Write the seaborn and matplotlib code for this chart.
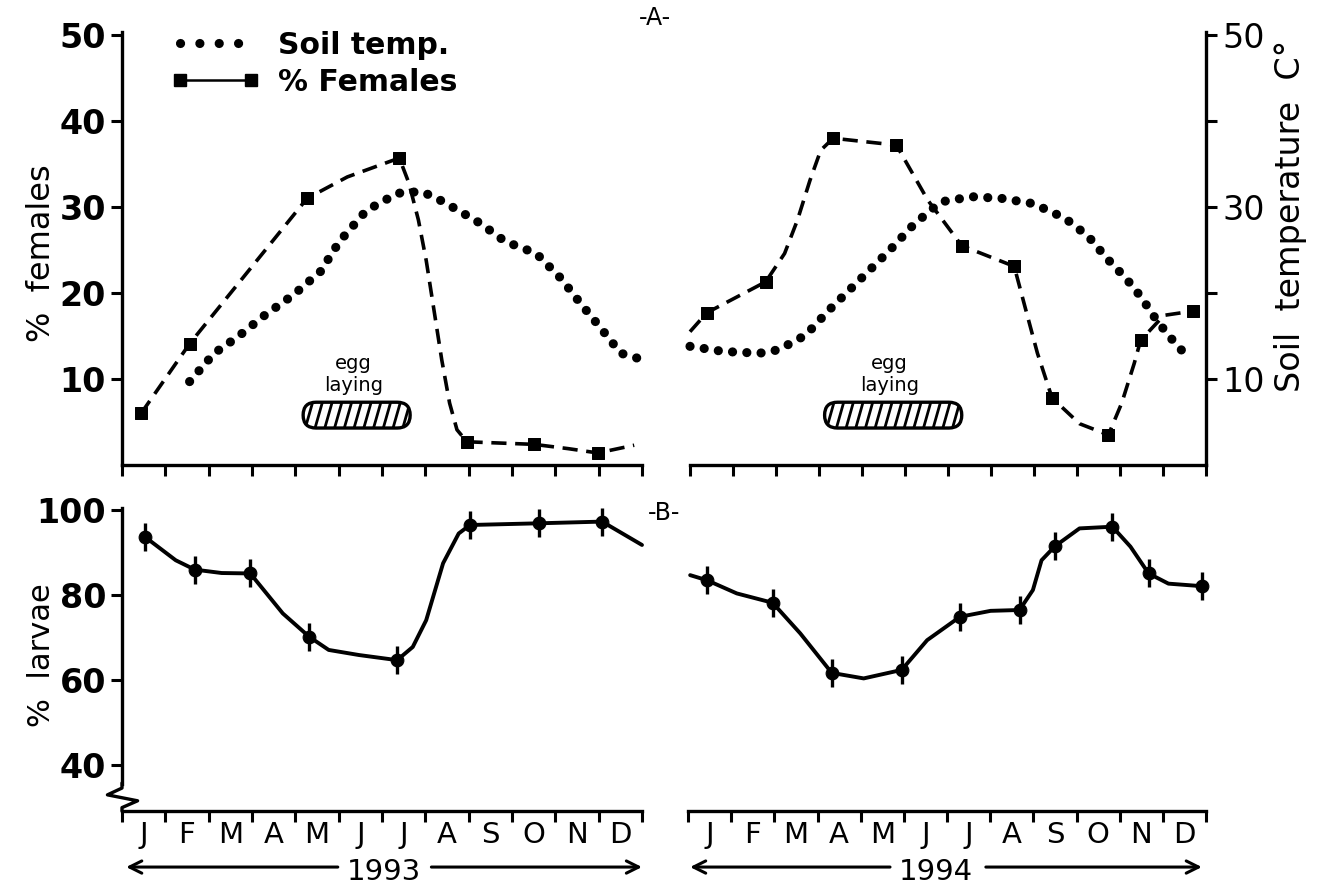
import numpy as np
import pandas as pd
import matplotlib
matplotlib.use("Agg")
import matplotlib.pyplot as plt
import seaborn as sns
from matplotlib.patches import FancyBboxPatch
from matplotlib.lines import Line2D

# ---------------- data (month index: 0 = 1 Jan, 12 = 31 Dec) ----------------
months = ["J", "F", "M", "A", "M", "J", "J", "A", "S", "O", "N", "D"]

# Panel A, 1993 : % females (markers) and the drawn dashed path
fem93_month = [0.44, 1.56, 4.27, 6.40, 7.96, 9.51, 10.98]
fem93_value = [6.0, 14.1, 31.0, 35.7, 2.7, 2.4, 1.4]
fem93_path_month = [0.44, 1.56, 4.27, 5.2, 6.40, 6.62, 6.84, 7.02, 7.2, 7.38,
                    7.56, 7.73, 7.96, 9.51, 10.3, 10.98, 11.82]
fem93_path_value = [6.0, 14.1, 31.0, 33.5, 35.7, 32.8, 28.5, 23.8, 18.0, 12.2,
                    7.2, 4.1, 2.7, 2.4, 1.9, 1.4, 2.3]

# Panel A, 1993 : soil temperature (dotted)
soil93_month = [1.56, 2.13, 2.67, 3.29, 3.96, 4.58, 5.02, 5.64, 6.36, 6.89,
                7.2, 7.73, 8.27, 8.84, 9.56, 10.13, 10.58, 11.02, 11.51, 11.91]
soil93_value = [9.7, 13.0, 14.9, 17.4, 19.8, 22.5, 26.0, 29.6, 31.6, 31.8,
                31.2, 29.7, 28.1, 26.0, 24.6, 21.7, 18.8, 16.1, 13.0, 12.4]

# Panel A, 1994
fem94_month = [0.39, 1.76, 3.33, 4.80, 6.32, 7.54, 8.42, 9.73, 10.48, 11.70]
fem94_value = [17.7, 21.3, 38.0, 37.2, 25.5, 23.1, 7.8, 3.5, 14.5, 17.9]
fem94_path_month = [0.0, 0.39, 1.76, 2.2, 2.5, 2.79, 3.04, 3.33, 4.80, 5.53,
                    6.32, 7.54, 7.79, 8.08, 8.42, 9.06, 9.73, 10.04, 10.33,
                    10.48, 11.02, 11.70]
fem94_path_value = [15.5, 17.7, 21.3, 24.6, 28.5, 33.1, 36.6, 38.0, 37.2, 30.8,
                    25.5, 23.1, 18.4, 13.0, 7.8, 4.8, 3.5, 7.2, 11.8,
                    14.5, 17.4, 17.9]

soil94_month = [0.0, 0.78, 1.62, 2.06, 2.69, 3.23, 3.82, 4.65, 5.19, 5.83,
                6.56, 7.25, 7.98, 8.72, 9.26, 9.70, 10.14, 10.48, 10.87,
                11.26, 11.46]
soil94_value = [13.8, 13.2, 13.0, 13.4, 15.1, 18.0, 20.9, 25.0, 27.9, 30.6,
                31.2, 31.0, 30.4, 28.7, 26.6, 24.0, 21.7, 19.6, 16.7,
                14.3, 13.2]

# Panel B : % larvae
lar93_month = [0.53, 1.68, 2.96, 4.32, 6.35, 8.03, 9.62, 11.08]
lar93_value = [93.7, 86.0, 85.1, 70.2, 64.7, 96.5, 96.9, 97.3]
lar93_path_month = [0.53, 1.24, 1.68, 2.3, 2.96, 3.71, 4.32, 4.77, 5.47, 6.35,
                    6.71, 7.02, 7.41, 7.77, 8.03, 9.62, 11.08, 12.0]
lar93_path_value = [93.7, 88.2, 86.0, 85.2, 85.1, 75.7, 70.2, 67.1, 65.9, 64.7,
                    67.8, 74.1, 87.5, 94.5, 96.5, 96.9, 97.3, 91.8]

lar94_month = [0.44, 1.96, 3.33, 4.95, 6.30, 7.68, 8.50, 9.83, 10.67, 11.91]
lar94_value = [83.5, 78.2, 61.7, 62.4, 74.9, 76.5, 91.5, 96.1, 85.1, 82.1]
lar94_path_month = [0.05, 0.44, 1.13, 1.96, 2.6, 3.33, 4.07, 4.95, 5.54, 6.30,
                    7.01, 7.68, 7.99, 8.19, 8.50, 9.07, 9.83, 10.25, 10.67,
                    11.13, 11.91]
lar94_path_value = [84.7, 83.5, 80.4, 78.2, 71.0, 61.7, 60.4, 62.4, 69.4, 74.9,
                    76.3, 76.5, 81.2, 88.2, 91.5, 95.7, 96.1, 91.4, 85.1,
                    82.7, 82.1]

# egg laying periods (month start, month end)
egg93 = (4.18, 6.65)
egg94 = (3.13, 6.32)

# ---------------- style ----------------
sns.set_theme(style="ticks")
plt.rcParams["font.family"] = ["DejaVu Sans"]
for k in ("text.color", "axes.labelcolor", "xtick.color", "ytick.color",
          "axes.edgecolor"):
    plt.rcParams[k] = "black"

fig = plt.figure(figsize=(13.21, 8.89), dpi=100)
fig.patch.set_facecolor("white")

axA1 = fig.add_axes([0.09235, 0.47694, 0.39364, 0.48751])
axA2 = fig.add_axes([0.52233, 0.47694, 0.39061, 0.48751])
axB1 = fig.add_axes([0.09235, 0.08774, 0.39364, 0.34083])
axB2 = fig.add_axes([0.52082, 0.08774, 0.39213, 0.34083])

DASH = (0, (4.2, 2.4))
DOT = (0, (0.01, 1.55))

def df(x, y):
    return pd.DataFrame({"month": x, "value": y})

for ax in (axA1, axA2, axB1, axB2):
    ax.set_facecolor("white")
    for s in ax.spines.values():
        s.set_linewidth(2.4)
        s.set_color("black")
    ax.set_xlim(0, 12)
    ax.set_xticks(range(13))
    ax.tick_params(axis="both", which="major", length=8, width=2.2,
                   direction="out", color="black", labelcolor="black")

# ---------- Panel A ----------
for ax, pm, pv, mm, mv, sm, sv in (
        (axA1, fem93_path_month, fem93_path_value, fem93_month, fem93_value,
         soil93_month, soil93_value),
        (axA2, fem94_path_month, fem94_path_value, fem94_month, fem94_value,
         soil94_month, soil94_value)):
    sns.lineplot(data=df(sm, sv), x="month", y="value", ax=ax, sort=False,
                 estimator=None, color="black", lw=6.6, linestyle=DOT,
                 dash_capstyle="round", clip_on=False)
    sns.lineplot(data=df(pm, pv), x="month", y="value", ax=ax, sort=False,
                 estimator=None, color="black", lw=2.6, linestyle=DASH,
                 clip_on=False)
    sns.scatterplot(data=df(mm, mv), x="month", y="value", ax=ax,
                    marker="s", s=80, color="black", edgecolor="black",
                    zorder=5, clip_on=False)
    ax.set_ylim(0, 50.4)
    ax.set_xticklabels([])
    ax.set_xlabel("")
    ax.set_ylabel("")

axA1.spines["top"].set_visible(False)
axA1.spines["right"].set_visible(False)
axA1.set_yticks([10, 20, 30, 40, 50])
axA1.set_yticklabels(["10", "20", "30", "40", "50"], fontsize=24,
                     fontweight="bold")

axA2.spines["top"].set_visible(False)
axA2.spines["left"].set_visible(False)
axA2.yaxis.tick_right()
axA2.set_yticks([10, 20, 30, 40, 50])
axA2.set_yticklabels(["10", "", "30", "", "50"], fontsize=24)
axA2.tick_params(axis="y", which="major", length=8, width=2.2)

# egg laying boxes (stadium outline, steep hatching inside)
for ax, (e0, e1) in ((axA1, egg93), (axA2, egg94)):
    box = FancyBboxPatch((e0, 4.3), e1 - e0, 3.0,
                         boxstyle="round,pad=0,rounding_size=0.3",
                         mutation_aspect=5.0, facecolor="white",
                         edgecolor="black", lw=2.4, zorder=3)
    ax.add_patch(box)
    for xs in np.arange(e0 + 0.05, e1, 0.225):
        ln, = ax.plot([xs, xs + 0.17], [4.3, 7.3], color="black", lw=2.0,
                      zorder=3.5)
        ln.set_clip_path(box)
    xc = (e0 + e1) / 2 - 0.08
    ax.text(xc, 11.8, "egg", ha="center", va="center", fontsize=14)
    ax.text(xc, 9.2, "laying", ha="center", va="center", fontsize=14)

# legend
h_soil = Line2D([], [], color="black", lw=6.6, linestyle=(0, (0.01, 2.1)),
                dash_capstyle="round")
h_fem = Line2D([], [], color="black", lw=1.8, marker="s", ms=9)
axA1.legend([h_soil, h_fem], ["Soil temp.", "% Females"], loc="upper left",
            bbox_to_anchor=(0.071, 1.03), frameon=False,
            prop={"size": 21.5, "weight": "bold"},
            handlelength=3.0, handletextpad=0.6, labelspacing=0.28,
            numpoints=2, borderaxespad=0)

axA1.text(-0.155, 0.49, "%  females", rotation=90, transform=axA1.transAxes,
          ha="center", va="center", fontsize=23)
axA2.text(1.163, 0.575, "Soil  temperature  C°", rotation=90,
          transform=axA2.transAxes, ha="center", va="center", fontsize=24)

# ---------- Panel B ----------
for ax, pm, pv, mm, mv in (
        (axB1, lar93_path_month, lar93_path_value, lar93_month, lar93_value),
        (axB2, lar94_path_month, lar94_path_value, lar94_month, lar94_value)):
    sns.lineplot(data=df(pm, pv), x="month", y="value", ax=ax, sort=False,
                 estimator=None, color="black", lw=2.8, clip_on=False)
    sns.scatterplot(data=df(mm, mv), x="month", y="value", ax=ax,
                    marker="o", s=85, color="black", edgecolor="black",
                    zorder=5, clip_on=False)
    sns.scatterplot(data=df(mm, mv), x="month", y="value", ax=ax,
                    marker="|", s=420, color="black", linewidth=2.4,
                    zorder=5, clip_on=False)
    ax.set_ylim(29.2, 100.5)
    ax.set_xticks([m + 0.5 for m in range(12)], minor=True)
    ax.set_xticklabels([], minor=False)
    ax.set_xticklabels(months, minor=True, fontsize=21)
    ax.tick_params(axis="x", which="minor", length=0, pad=7,
                   labelcolor="black")
    ax.spines["top"].set_visible(False)
    ax.spines["right"].set_visible(False)
    ax.set_xlabel("")
    ax.set_ylabel("")

axB1.set_yticks([40, 60, 80, 100])
axB1.set_yticklabels(["40", "60", "80", "100"], fontsize=24,
                     fontweight="bold")
axB1.spines["left"].set_bounds(35.5, 100.5)
brk = axB1.get_yaxis_transform()
axB1.plot([0, 0, -0.028, 0.03, 0, 0], [35.8, 34.6, 33.0, 31.6, 30.0, 29.2],
          transform=brk, color="black", lw=2.4, clip_on=False,
          solid_joinstyle="round")

axB2.spines["left"].set_visible(False)
axB2.set_yticks([])

axB1.text(-0.155, 0.515, "%  larvae", rotation=90, transform=axB1.transAxes,
          ha="center", va="center", fontsize=22)

# year arrows
for ax, year, xc, l0, l1, r0, r1 in (
        (axB1, "1993", 0.503, 0.415, 0.008, 0.595, 1.0),
        (axB2, "1994", 0.479, 0.39, 0.004, 0.575, 0.992)):
    ax.text(xc, -0.2, year, transform=ax.transAxes, ha="center",
            va="center", fontsize=21)
    for a, b in ((l0, l1), (r0, r1)):
        ax.annotate("", xy=(b, -0.185), xytext=(a, -0.185),
                    xycoords="axes fraction", textcoords="axes fraction",
                    arrowprops=dict(arrowstyle="->", lw=2.2, color="black",
                                    mutation_scale=22, shrinkA=0, shrinkB=0))

fig.text(655 / 1321, 1 - 18 / 889, "-A-", ha="center", va="center",
         fontsize=17)
fig.text(664 / 1321, 1 - 513 / 889, "-B-", ha="center", va="center",
         fontsize=17)

fig.savefig("out.png", dpi=100, facecolor="white")
